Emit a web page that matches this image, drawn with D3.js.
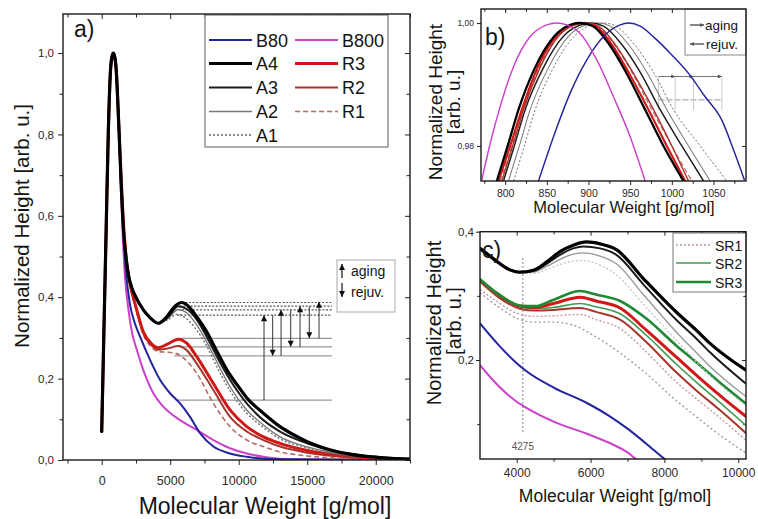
<!DOCTYPE html>
<html><head><meta charset="utf-8">
<script src="https://cdn.jsdelivr.net/npm/d3@7"></script>
<style>
body{margin:0;background:#fff}
svg{display:block}
text{font-family:"Liberation Sans",Arial,sans-serif;fill:#151515}
</style></head>
<body><svg id="chart" width="758" height="519"></svg>
<script>
// ================= DATA =================
// ---- panel a) full distribution ----
const aXMajor=[0,5000,10000,15000,20000];
const aXMinor=[-2500,2500,7500,12500,17500,22500];
const aYMajor=[0,0.2,0.4,0.6,0.8,1.0];
const aYMinor=[0.1,0.3,0.5,0.7,0.9];
const headA=[[0,0.07],[150,0.30],[320,0.56],[485,0.81],[655,0.965],[780,0.995],[850,1.0],[920,0.995],[1044,0.965],[1263,0.81]];
const a_B800=[[1400,0.66],[1550,0.54],[1700,0.45],[1950,0.37],[2200,0.315],[2550,0.272],[3037,0.221],[3767,0.164],[4496,0.131],[5715,0.098],[6934,0.074],[8150,0.049],[9365,0.029],[10584,0.016],[12000,0.007],[14000,0.002],[22500,0.0]];
const a_B80=[[1420,0.67],[1600,0.55],[1780,0.46],[2050,0.385],[2430,0.335],[2800,0.303],[3526,0.246],[4256,0.197],[4985,0.164],[5715,0.139],[6445,0.106],[7175,0.066],[8150,0.033],[9365,0.016],[10584,0.008],[12500,0.002],[22500,0.0]];
const a_R1=[[1450,0.67],[1650,0.55],[1900,0.465],[2150,0.415],[2430,0.378],[3037,0.308],[3600,0.278],[4133,0.266],[4800,0.265],[5400,0.262],[6000,0.25],[6934,0.213],[8150,0.139],[9365,0.082],[10584,0.049],[11800,0.033],[13015,0.02],[15000,0.01],[17500,0.004],[22500,0.0]];
const a_R2=[[1450,0.67],[1650,0.55],[1900,0.465],[2150,0.418],[2430,0.382],[3037,0.312],[3600,0.283],[4133,0.271],[4800,0.274],[5590,0.28],[6200,0.27],[6934,0.237],[8150,0.172],[9365,0.106],[10584,0.07],[11800,0.049],[13015,0.033],[15000,0.018],[17500,0.008],[20000,0.003],[22500,0.001]];
const a_R3=[[1450,0.67],[1650,0.55],[1900,0.465],[2150,0.42],[2430,0.385],[3037,0.315],[3600,0.287],[4133,0.276],[4800,0.285],[5590,0.297],[6200,0.287],[6934,0.254],[8150,0.188],[9365,0.123],[10584,0.082],[11800,0.057],[13015,0.041],[14500,0.027],[16000,0.017],[18000,0.009],[20000,0.004],[22500,0.001]];
const a_A1=[[1420,0.68],[1580,0.57],[1800,0.49],[1950,0.455],[2200,0.423],[2500,0.4],[3040,0.369],[3526,0.35],[4133,0.336],[4800,0.344],[5474,0.358],[6200,0.347],[6934,0.319],[7664,0.28],[8150,0.246],[9365,0.17],[10584,0.115],[11800,0.08],[13015,0.052],[15000,0.03],[17500,0.012],[20000,0.005],[22500,0.001]];
const a_A2=[[1420,0.68],[1580,0.57],[1800,0.49],[1950,0.455],[2200,0.423],[2500,0.4],[3040,0.369],[3526,0.35],[4133,0.336],[4800,0.347],[5590,0.37],[6200,0.362],[6934,0.332],[7664,0.29],[8150,0.258],[9365,0.18],[10584,0.123],[11800,0.086],[13015,0.057],[14500,0.037],[16000,0.024],[18000,0.012],[20000,0.006],[22500,0.002]];
const a_A3=[[1420,0.68],[1580,0.57],[1800,0.49],[1950,0.455],[2200,0.423],[2500,0.4],[3040,0.369],[3526,0.35],[4133,0.336],[4800,0.35],[5590,0.378],[6200,0.371],[6934,0.345],[7664,0.303],[8394,0.255],[9365,0.197],[10584,0.139],[11800,0.098],[13015,0.07],[14500,0.047],[16000,0.03],[18000,0.016],[20000,0.008],[22500,0.003]];
const a_A4=[[1420,0.68],[1580,0.57],[1800,0.49],[1950,0.455],[2200,0.423],[2500,0.4],[3040,0.369],[3526,0.35],[4133,0.336],[4745,0.352],[5350,0.378],[5839,0.387],[6321,0.378],[6934,0.352],[7664,0.315],[8394,0.268],[9124,0.222],[10095,0.175],[10584,0.153],[11800,0.115],[13015,0.082],[14000,0.062],[15000,0.045],[16000,0.032],[17000,0.022],[18000,0.015],[19000,0.01],[20000,0.007],[21000,0.004],[22500,0.002]];
// peak-height marker lines (start x, level), common end x
const aDottedLevels=[[5840,0.387],[5700,0.378],[5600,0.369],[5500,0.356]];
const aSolidLevels=[[5600,0.299],[5600,0.278],[5300,0.256],[5400,0.147]];
const aLevelEnd=16800;
// arrows: x, from, to
const aArrows=[[11846,0.147,0.356],[12480,0.356,0.256],[13090,0.256,0.369],[13795,0.369,0.278],[14475,0.278,0.378],[15150,0.378,0.299],[15860,0.299,0.389]];
const aLegendLeft=["B80","A4","A3","A2","A1"];
const aLegendRight=["B800","R3","R2","R1"];

// ---- panel b) peak zoom ----
const bXMajor=[800,850,900,950,1000,1050];
const bXMinor=[775,825,875,925,975,1025,1075];
const bYMajor=[0.98,1.00];
const b_B800=[[772,0.9745],[782,0.9804],[794,0.9864],[810,0.9929],[830,0.9978],[850,0.9997],[862,1.0],[874,0.9997],[890,0.9983],[910,0.994],[930,0.988],[950,0.9815],[968,0.9743]];
const b_B80=[[840,0.9743],[858,0.9815],[878,0.9886],[898,0.994],[918,0.9978],[938,0.9997],[948,1.0],[962,0.9995],[980,0.9975],[1000,0.9948],[1020,0.9918],[1040,0.988],[1060,0.9842],[1075,0.979],[1087,0.9745]];
const b_A4=[[790,0.9743],[803,0.98],[816,0.9859],[835,0.9925],[860,0.998],[880,0.9998],[890,1.0],[905,0.9995],[925,0.9965],[945,0.992],[968,0.9859],[990,0.98],[1014,0.9743]];
const b_R3=[[792,0.9743],[806,0.98],[820,0.9859],[838,0.9925],[862,0.998],[882,0.9998],[893,1.0],[908,0.9995],[928,0.9965],[948,0.992],[972,0.9859],[994,0.98],[1016,0.9743]];
const b_R2=[[796,0.9743],[809,0.98],[822,0.9859],[841,0.9925],[865,0.998],[886,0.9998],[897,1.0],[912,0.9995],[932,0.9965],[953,0.992],[978,0.9859],[1000,0.98],[1020,0.9743]];
const b_R1=[[794,0.9743],[808,0.98],[821,0.9859],[840,0.9925],[864,0.998],[884,0.9998],[895,1.0],[910,0.9995],[931,0.9965],[952,0.992],[976,0.9859],[1000,0.98],[1024,0.9743]];
const b_A3=[[798,0.9743],[811,0.98],[824,0.9859],[845,0.9925],[871,0.998],[893,0.9998],[903,1.0],[918,0.9995],[940,0.9965],[962,0.992],[986,0.9859],[1012,0.98],[1038,0.9743]];
const b_A2=[[804,0.9743],[817,0.98],[830,0.9859],[851,0.9925],[877,0.998],[900,0.9998],[912,1.0],[926,0.9995],[948,0.9965],[970,0.992],[994,0.9859],[1020,0.98],[1046,0.9743]];
const b_A1=[[810,0.9743],[823,0.98],[836,0.9859],[857,0.9925],[884,0.998],[907,0.9998],[918,1.0],[933,0.9995],[955,0.9965],[978,0.992],[1002,0.9859],[1034,0.98],[1066,0.9743]];
const bAnnoLevels=[0.9913,0.9875];
const bAnnoX=[984,1004,1026,1060];

// ---- panel c) second-peak zoom ----
const cXMajor=[4000,6000,8000,10000];
const cXMinor=[5000,7000,9000];
const cYMajor=[0.2,0.4];
const cYMinor=[0.1,0.3];
const cMarkX=4275;
const c_B800=[[3006,0.192],[3500,0.16],[4000,0.135],[4275,0.125],[5000,0.104],[5900,0.085],[6500,0.071],[7000,0.056],[7250,0.045],[7500,0.038]];
const c_B80=[[3006,0.257],[3500,0.224],[4000,0.195],[4275,0.182],[5000,0.157],[5900,0.133],[6500,0.113],[7000,0.093],[7500,0.07],[8000,0.046],[8200,0.037]];
const c_R1=[[3006,0.305],[3500,0.283],[4089,0.263],[4500,0.259],[5000,0.259],[5500,0.255],[6147,0.236],[6800,0.211],[7501,0.179],[8333,0.136],[8855,0.112],[9500,0.083],[10209,0.055]];
const c_SR1=[[3006,0.31],[3500,0.29],[4089,0.271],[4500,0.268],[5000,0.269],[5714,0.271],[6147,0.263],[6800,0.249],[7501,0.213],[8333,0.165],[8855,0.14],[9500,0.11],[10209,0.075]];
const c_R2=[[3006,0.322],[3500,0.298],[4089,0.28],[4500,0.277],[5000,0.278],[5714,0.281],[6147,0.275],[6800,0.263],[7501,0.2285],[8333,0.18],[8855,0.153],[9500,0.122],[10209,0.086]];
const c_SR2=[[3006,0.323],[3500,0.3],[4089,0.283],[4500,0.28],[5000,0.282],[5714,0.288],[6147,0.283],[6800,0.272],[7501,0.239],[8333,0.193],[8855,0.166],[9500,0.134],[10209,0.098]];
const c_R3=[[3006,0.325],[3500,0.302],[4089,0.284],[4500,0.282],[5000,0.288],[5714,0.298],[6147,0.292],[6800,0.281],[7501,0.247],[8333,0.204],[8855,0.177],[9500,0.145],[10209,0.112]];
const c_SR3=[[3006,0.326],[3500,0.303],[4089,0.285],[4500,0.284],[5000,0.294],[5714,0.3076],[6147,0.302],[6800,0.292],[7501,0.265],[8333,0.222],[8855,0.197],[9500,0.165],[10209,0.132]];
const c_A1=[[3006,0.37],[3500,0.35],[4089,0.335],[4450,0.335],[4812,0.341],[5172,0.349],[5533,0.354],[5800,0.355],[6256,0.348],[6700,0.333],[7428,0.287],[8333,0.23],[8855,0.198],[9234,0.176],[10209,0.128]];
const c_A2=[[3006,0.372],[3500,0.352],[4089,0.336],[4450,0.337],[4812,0.346],[5172,0.357],[5533,0.365],[5800,0.367],[6256,0.362],[6700,0.35],[7428,0.302],[8333,0.243],[8855,0.212],[9234,0.19],[10209,0.143]];
const c_A3=[[3006,0.374],[3366,0.358],[3729,0.343],[4089,0.337],[4450,0.339],[4812,0.35],[5172,0.364],[5533,0.374],[5800,0.377],[6256,0.374],[6700,0.364],[7428,0.318],[8333,0.262],[8855,0.234],[9234,0.212],[10209,0.163]];
const c_A4=[[3006,0.374],[3366,0.358],[3729,0.343],[4089,0.337],[4450,0.34],[4812,0.353],[5172,0.369],[5533,0.379],[5895,0.384],[6256,0.381],[6700,0.372],[7428,0.327],[8333,0.274],[8855,0.247],[9234,0.226],[10209,0.184]];
const cLegend=["SR1","SR2","SR3"];

// ================= STYLES =================
const ST={
  B80:{c:"#24249e",w:2},
  B800:{c:"#cc40cc",w:2},
  A4:{c:"#000",w:3.2},
  A3:{c:"#1c1c1c",w:2},
  A2:{c:"#777",w:1.4},
  A1:{c:"#666",w:1.3,d:"2,2"},
  R3:{c:"#d01818",w:3},
  R2:{c:"#a8352c",w:2},
  R1:{c:"#b86a66",w:1.6,d:"5,3"},
  SR1:{c:"#c09a9c",w:1.4,d:"2,2"},
  SR2:{c:"#3f9a50",w:1.6},
  SR3:{c:"#1f8a33",w:2.6},
  cR1:{c:"#a59aa6",w:1.4,d:"2,2.5"},
  cA1:{c:"#c4c4c4",w:1.3,d:"2,2"},
  cA2:{c:"#999",w:1.4}
};

// ================= DRAW =================
const svg=d3.select("#chart");
const loc=d3.formatLocale({decimal:",",thousands:"",grouping:[3],currency:["",""]});
const defs=svg.append("defs");
function marker(id,color,w,h){
  defs.append("marker").attr("id",id).attr("viewBox","0 0 10 10").attr("refX",10).attr("refY",5)
   .attr("markerWidth",w).attr("markerHeight",h).attr("markerUnits","userSpaceOnUse").attr("orient","auto")
   .append("path").attr("d","M0,0L10,5L0,10z").attr("fill",color);
}
marker("ahA","#111",8,6);
marker("ahB","#555",5,4);

function panel(id,P,xDom,yDom,o){
  const x=d3.scaleLinear().domain(xDom).range([P.l,P.r]);
  const y=d3.scaleLinear().domain(yDom).range([P.b,P.t]);
  const g=svg.append("g");
  defs.append("clipPath").attr("id","clip"+id).append("rect")
    .attr("x",P.l).attr("y",P.t).attr("width",P.r-P.l).attr("height",P.b-P.t);
  const ax=(gen,vals,size,fmt,pad,tr,fs)=>{
    const a=g.append("g").attr("transform",tr).call(gen.tickValues(vals).tickSize(size).tickPadding(pad).tickFormat(fmt));
    a.select(".domain").remove();
    a.selectAll("line").attr("stroke","#222").attr("stroke-width",1);
    a.selectAll("text").attr("font-size",fs).style("fill","#2a2a2a").attr("font-family",null);
    return a;
  };
  ax(d3.axisBottom(x),o.xMajor,o.tk,o.xFmt,o.xPad,`translate(0,${P.b})`,o.xfs);
  ax(d3.axisBottom(x),o.xMinor,o.tk*0.7,"",0,`translate(0,${P.b})`,o.xfs);
  ax(d3.axisTop(x),o.xMajor,-o.tk,"",0,`translate(0,${P.t})`,o.xfs);
  ax(d3.axisTop(x),o.xMinor,-o.tk*0.7,"",0,`translate(0,${P.t})`,o.xfs);
  ax(d3.axisLeft(y),o.yMajor,o.tk,o.yFmt,o.yPad,`translate(${P.l},0)`,o.yfs);
  if(o.yMinor){ax(d3.axisLeft(y),o.yMinor,o.tk*0.7,"",0,`translate(${P.l},0)`,o.yfs);
    ax(d3.axisRight(y),o.yMinor,-o.tk*0.7,"",0,`translate(${P.r},0)`,o.yfs);}
  ax(d3.axisRight(y),o.yMajor,-o.tk,"",0,`translate(${P.r},0)`,o.yfs);
  const plot=g.append("g").attr("clip-path",`url(#clip${id})`);
  const frame=()=>g.append("rect").attr("x",P.l).attr("y",P.t).attr("width",P.r-P.l).attr("height",P.b-P.t)
     .attr("fill","none").attr("stroke","#1a1a1a").attr("stroke-width",1.4);
  return {x,y,g,plot,frame};
}
function drawLines(pp,list,wScale){
  const k=wScale||1;
  const line=d3.line().x(d=>pp.x(d[0])).y(d=>pp.y(d[1])).curve(d3.curveMonotoneX);
  list.forEach(([data,key])=>{
    const s=ST[key];
    pp.plot.append("path").datum(data).attr("d",line).attr("fill","none")
      .attr("stroke",s.c).attr("stroke-width",s.w*k).attr("stroke-dasharray",s.d||null)
      .attr("stroke-linejoin","round").attr("stroke-linecap",s.d?"butt":"round");
  });
}
function text(g,x,y,str,fs,anchor,rot){
  const t=g.append("text").attr("font-size",fs).attr("text-anchor",anchor||"start").text(str);
  if(rot) t.attr("transform",`translate(${x},${y}) rotate(-90)`);
  else t.attr("x",x).attr("y",y);
  return t;
}
function legendLine(g,x1,x2,y,key){
  const s=ST[key];
  g.append("line").attr("x1",x1).attr("x2",x2).attr("y1",y).attr("y2",y)
   .attr("stroke",s.c).attr("stroke-width",Math.min(s.w,3)).attr("stroke-dasharray",s.d||null);
}

// ---------- Panel a ----------
const PA={l:63,r:410,t:14,b:460};
const pa=panel("a",PA,[-2825,22500],[0,1.096],{xMajor:aXMajor,xMinor:aXMinor,yMajor:aYMajor,yMinor:aYMinor,
  tk:5,xFmt:loc.format("d"),yFmt:loc.format(".1f"),xPad:11,yPad:4,xfs:12.5,yfs:11.5});
aDottedLevels.forEach(([x0,v])=>pa.plot.append("line").attr("x1",pa.x(x0)).attr("x2",pa.x(aLevelEnd))
  .attr("y1",pa.y(v)).attr("y2",pa.y(v)).attr("stroke","#555").attr("stroke-width",1.2).attr("stroke-dasharray","2,1.6"));
aSolidLevels.forEach(([x0,v])=>pa.plot.append("line").attr("x1",pa.x(x0)).attr("x2",pa.x(aLevelEnd))
  .attr("y1",pa.y(v)).attr("y2",pa.y(v)).attr("stroke","#999").attr("stroke-width",1.2));
aArrows.forEach(([xv,f,t])=>pa.plot.append("line").attr("x1",pa.x(xv)).attr("x2",pa.x(xv))
  .attr("y1",pa.y(f)).attr("y2",pa.y(t)).attr("stroke","#333").attr("stroke-width",1).attr("marker-end","url(#ahA)"));
const full=t=>headA.concat(t);
drawLines(pa,[[full(a_B800),"B800"],[full(a_B80),"B80"],[full(a_R1),"R1"],[full(a_R2),"R2"],[full(a_R3),"R3"],
  [full(a_A1),"A1"],[full(a_A2),"A2"],[full(a_A3),"A3"],[full(a_A4),"A4"]]);
pa.g.append("rect").attr("x",205).attr("y",15).attr("width",183).attr("height",132).attr("fill","#fff").attr("stroke","#777").attr("stroke-width",1.2);
const rowsA=[40,63.5,87.5,111.5,135];
aLegendLeft.forEach((k,i)=>{legendLine(pa.g,209,252,rowsA[i],k);text(pa.g,256,rowsA[i]+6.5,k,18);});
aLegendRight.forEach((k,i)=>{legendLine(pa.g,295,338,rowsA[i],k);text(pa.g,342,rowsA[i]+6.5,k,18);});
pa.g.append("rect").attr("x",337).attr("y",260).attr("width",58).attr("height",52).attr("fill","#fff").attr("stroke","#aaa").attr("stroke-width",1);
pa.g.append("line").attr("x1",342).attr("x2",342).attr("y1",278).attr("y2",264).attr("stroke","#111").attr("stroke-width",1.2).attr("marker-end","url(#ahA)");
pa.g.append("line").attr("x1",342).attr("x2",342).attr("y1",283).attr("y2",297).attr("stroke","#111").attr("stroke-width",1.2).attr("marker-end","url(#ahA)");
text(pa.g,351,276,"aging",14);
text(pa.g,351,297,"rejuv.",14);
text(pa.g,74,37,"a)",23);
text(pa.g,265,514,"Molecular Weight [g/mol]",23,"middle");
text(pa.g,29,226,"Normalized Height [arb. u.]",20.5,"middle",true);
pa.frame();

// ---------- Panel b ----------
const PB={l:481,r:746,t:9,b:181};
const pb=panel("b",PB,[771,1089],[0.9743,1.00228],{xMajor:bXMajor,xMinor:bXMinor,yMajor:bYMajor,
  tk:4,xFmt:loc.format("d"),yFmt:loc.format(".2f"),xPad:5,yPad:3,xfs:10.5,yfs:8.5});
bAnnoLevels.forEach((v,i)=>pb.plot.append("line").attr("x1",pb.x(bAnnoX[0])).attr("x2",pb.x(bAnnoX[3]))
  .attr("y1",pb.y(v)).attr("y2",pb.y(v)).attr("stroke","#999").attr("stroke-width",1).attr("stroke-dasharray",i?"6,2":null));
bAnnoX.forEach(xv=>pb.plot.append("line").attr("x1",pb.x(xv)).attr("x2",pb.x(xv))
  .attr("y1",pb.y(bAnnoLevels[0])).attr("y2",pb.y(0.9858)).attr("stroke","#ccc").attr("stroke-width",1));
[[bAnnoX[0],bAnnoX[1]],[bAnnoX[1],bAnnoX[2]],[bAnnoX[2],bAnnoX[3]]].forEach(([a,b])=>
  pb.plot.append("line").attr("x1",pb.x(a)).attr("x2",pb.x(b)).attr("y1",pb.y(bAnnoLevels[0])).attr("y2",pb.y(bAnnoLevels[0]))
   .attr("stroke","#777").attr("stroke-width",1).attr("marker-end","url(#ahB)"));
drawLines(pb,[[b_A1,"A1"],[b_A2,"A2"],[b_A3,"A3"],[b_R1,"R1"],[b_R2,"R2"],[b_R3,"R3"],[b_A4,"A4"],[b_B80,"B80"],[b_B800,"B800"]],0.72);
pb.g.append("rect").attr("x",685).attr("y",9).attr("width",61).attr("height",46).attr("fill","#fff").attr("stroke","#888").attr("stroke-width",1);
pb.g.append("line").attr("x1",690).attr("x2",704).attr("y1",25).attr("y2",25).attr("stroke","#111").attr("stroke-width",1).attr("marker-end","url(#ahB)");
pb.g.append("line").attr("x1",704).attr("x2",690).attr("y1",44).attr("y2",44).attr("stroke","#111").attr("stroke-width",1).attr("marker-end","url(#ahB)");
text(pb.g,705,30,"aging",13.5);
text(pb.g,706,49,"rejuv.",13.5);
text(pb.g,485,45,"b)",23);
text(pb.g,624,213,"Molecular Weight [g/mol]",16.5,"middle");
text(pb.g,442,102,"Normalized Height",19,"middle",true);
text(pb.g,460,102,"[arb. u.]",19,"middle",true);
pb.frame();

// ---------- Panel c ----------
const PC={l:480,r:746,t:231.7,b:459};
const pc=panel("c",PC,[3006,10209],[0.0457,0.4],{xMajor:cXMajor,xMinor:cXMinor,yMajor:cYMajor,yMinor:cYMinor,
  tk:4,xFmt:loc.format("d"),yFmt:loc.format(".1f"),xPad:5,yPad:2,xfs:12,yfs:11.5});
pc.plot.append("line").attr("x1",pc.x(cMarkX)-4).attr("x2",pc.x(cMarkX)-4).attr("y1",258).attr("y2",434)
  .attr("stroke","#999").attr("stroke-width",1.2).attr("stroke-dasharray","2,2");
text(pc.g,pc.x(cMarkX)-4,450,String(cMarkX),10,"middle").style("fill","#555");
drawLines(pc,[[c_B800,"B800"],[c_B80,"B80"],[c_R1,"cR1"],[c_SR1,"SR1"],[c_R2,"R2"],[c_SR2,"SR2"],[c_R3,"R3"],[c_SR3,"SR3"],
  [c_A1,"cA1"],[c_A2,"cA2"],[c_A3,"A3"],[c_A4,"A4"]]);
pc.g.append("rect").attr("x",673).attr("y",233).attr("width",73).attr("height",59).attr("fill","#fff").attr("stroke","#777").attr("stroke-width",1);
const rowsC=[245,263,282];
cLegend.forEach((k,i)=>{legendLine(pc.g,676,711,rowsC[i],k);text(pc.g,715,rowsC[i]+6,k,14);});
text(pc.g,482,258,"c)",23);
text(pc.g,615,502,"Molecular Weight [g/mol]",17.5,"middle");
text(pc.g,441,323,"Normalized Height",20,"middle",true);
text(pc.g,461,321,"[arb. u.]",20,"middle",true);
pc.frame();
</script></body></html>
